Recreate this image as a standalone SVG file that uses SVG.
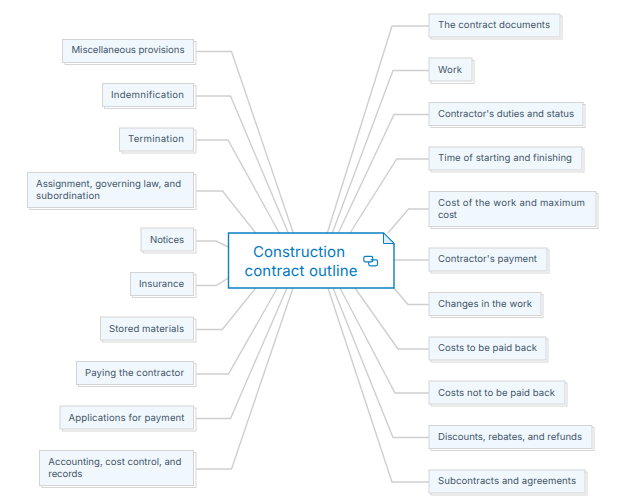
<svg xmlns="http://www.w3.org/2000/svg" width="635" height="499" viewBox="0 0 635 499">
<style>
.s{fill:#fff;stroke:#d6d6d6;stroke-width:1}
.b{fill:#f1f8fd;stroke:#d4d4d4;stroke-width:1}
.t{font-family:Inter,"Open Sans","Liberation Sans",sans-serif;font-size:9.6px;fill:#43566a;text-rendering:geometricPrecision}
.c{font-family:Inter,"Open Sans","Liberation Sans",sans-serif;font-size:15px;fill:#0379bf;text-rendering:geometricPrecision}
#connectors polyline{fill:none;stroke:#cfcfcf;stroke-width:1.4}
</style>
<rect width="635" height="499" fill="#fff"/>
<g id="connectors">
<polyline points="196,51.5 231.5,51.5 293.3,233"/>
<polyline points="196,96 230.5,96 288.3,233"/>
<polyline points="196,140 228,140 279.3,233"/>
<polyline points="196,191 222.5,191 255.7,233"/>
<polyline points="196,241 216,241 228.5,247"/>
<polyline points="196,285.5 216,285.5 228.5,278"/>
<polyline points="196,329.5 222.3,329.5 255.7,288"/>
<polyline points="196,374 228.5,374 277.3,288"/>
<polyline points="196,418.5 230.5,418.5 287,288"/>
<polyline points="196,469 231.5,469 293,288"/>
<polyline points="429,26 392,26 327.3,233"/>
<polyline points="429,70.5 393,70.5 332.3,233"/>
<polyline points="429,114.5 394,114.5 338.3,233"/>
<polyline points="429,159 396.7,159 350,233"/>
<polyline points="429,209 408.5,209 388,233"/>
<polyline points="394,260 429,260"/>
<polyline points="394,288 408,304.5 429,304.5"/>
<polyline points="355,288 398,349 429,349"/>
<polyline points="340,288 395,393 429,393"/>
<polyline points="333,288 393,437.5 429,437.5"/>
<polyline points="328,288 392,482 429,482"/>
</g>
<g id="n-misc"><rect class="s" x="65" y="41.500" width="131" height="23"/><rect class="b" x="62.500" y="39.500" width="131" height="23"/><text class="t" x="71.500" y="53" textLength="113">Miscellaneous provisions</text></g>
<g id="n-indem"><rect class="s" x="104.500" y="85.500" width="91.500" height="23"/><rect class="b" x="102.500" y="83.500" width="91" height="23"/><text class="t" x="111" y="97.500" textLength="73">Indemnification</text></g>
<g id="n-term"><rect class="s" x="122" y="130" width="74" height="23"/><rect class="b" x="119.500" y="128" width="74" height="23"/><text class="t" x="128" y="142" textLength="56">Termination</text></g>
<g id="n-assign"><rect class="s" x="30" y="174.500" width="166" height="35"/><rect class="b" x="27.500" y="172.500" width="166" height="35"/><text class="t" x="36" y="186.500" textLength="145">Assignment, governing law, and</text><text class="t" x="36" y="198.500" textLength="64">subordination</text></g>
<g id="n-notices"><rect class="s" x="143" y="230" width="53" height="23"/><rect class="b" x="141" y="228" width="52.500" height="23"/><text class="t" x="150" y="242.500" textLength="34">Notices</text></g>
<g id="n-insur"><rect class="s" x="132.500" y="274.500" width="63.500" height="23"/><rect class="b" x="130.500" y="272.500" width="63" height="23"/><text class="t" x="139" y="287" textLength="45">Insurance</text></g>
<g id="n-stored"><rect class="s" x="102.500" y="319" width="93.500" height="23"/><rect class="b" x="100.500" y="317" width="93" height="23"/><text class="t" x="109" y="331.500" textLength="75">Stored materials</text></g>
<g id="n-paying"><rect class="s" x="78.500" y="363.500" width="117.500" height="23"/><rect class="b" x="76.500" y="361.500" width="117" height="23"/><text class="t" x="85" y="376" textLength="99">Paying the contractor</text></g>
<g id="n-appl"><rect class="s" x="62.500" y="408" width="133.500" height="23"/><rect class="b" x="60" y="406" width="133.500" height="23"/><text class="t" x="68.500" y="420.500" textLength="116">Applications for payment</text></g>
<g id="n-acct"><rect class="s" x="42" y="452.500" width="154" height="35"/><rect class="b" x="39.500" y="450.500" width="154" height="35"/><text class="t" x="48.300" y="464.500" textLength="133">Accounting, cost control, and</text><text class="t" x="48.300" y="476.500" textLength="34">records</text></g>
<g id="n-docs"><rect class="s" x="431" y="16" width="131" height="23"/><rect class="b" x="429" y="14" width="131" height="23"/><text class="t" x="438" y="28" textLength="112">The contract documents</text></g>
<g id="n-work"><rect class="s" x="431" y="60.500" width="43" height="23"/><rect class="b" x="429" y="58" width="43" height="23"/><text class="t" x="438" y="72.500" textLength="24">Work</text></g>
<g id="n-duties"><rect class="s" x="431" y="104.500" width="154" height="23"/><rect class="b" x="429" y="102.500" width="154" height="23"/><text class="t" x="438" y="116.500" textLength="136">Contractor's duties and status</text></g>
<g id="n-time"><rect class="s" x="431" y="149" width="153" height="23"/><rect class="b" x="429" y="147" width="153" height="23"/><text class="t" x="438" y="161" textLength="134">Time of starting and finishing</text></g>
<g id="n-cost"><rect class="s" x="431" y="193.500" width="167" height="35"/><rect class="b" x="429" y="191.500" width="167" height="35"/><text class="t" x="438" y="205.500" textLength="147">Cost of the work and maximum</text><text class="t" x="438" y="217.500" textLength="19">cost</text></g>
<g id="n-pay"><rect class="s" x="431" y="250" width="118" height="23"/><rect class="b" x="429" y="248" width="118" height="23"/><text class="t" x="438" y="262" textLength="99">Contractor's payment</text></g>
<g id="n-chg"><rect class="s" x="431" y="294.500" width="112" height="23"/><rect class="b" x="429" y="292.500" width="112" height="23"/><text class="t" x="438" y="306.500" textLength="94">Changes in the work</text></g>
<g id="n-back"><rect class="s" x="431" y="339" width="117" height="23"/><rect class="b" x="429" y="337" width="117" height="23"/><text class="t" x="438" y="351" textLength="99">Costs to be paid back</text></g>
<g id="n-notback"><rect class="s" x="431" y="383" width="136" height="23"/><rect class="b" x="429" y="381" width="136" height="23"/><text class="t" x="438" y="395.500" textLength="117">Costs not to be paid back</text></g>
<g id="n-disc"><rect class="s" x="431" y="427.500" width="163" height="23"/><rect class="b" x="429" y="425.500" width="163" height="23"/><text class="t" x="438" y="439.500" textLength="144">Discounts, rebates, and refunds</text></g>
<g id="n-sub"><rect class="s" x="431" y="472" width="156" height="23"/><rect class="b" x="429" y="470" width="156" height="23"/><text class="t" x="438" y="484" textLength="138">Subcontracts and agreements</text></g>
<g id="n-center">
<path d="M228.500 233H383.500L394 243.500V288H228.500Z" fill="#fff" stroke="#0a7fc2" stroke-width="1.400"/>
<path d="M383.500 233L394 243.500H383.500Z" fill="#dceffa" stroke="#0a7fc2" stroke-width="1"/>
<text class="c" x="253" y="256.500" textLength="92">Construction</text>
<text class="c" x="244.500" y="275.500" textLength="113">contract outline</text>
<g fill="none" stroke="#0a7fc2" stroke-width="1.200"><rect x="363.800" y="256.300" width="9" height="5.500" rx="1.600"/><path d="M370.500 259.800H376A1.500 1.500 0 0 1 377.500 261.300V264A1.800 1.800 0 0 1 375.700 265.800H370.500A1.800 1.800 0 0 1 368.700 264V261.800"/></g>
</g>
</svg>
